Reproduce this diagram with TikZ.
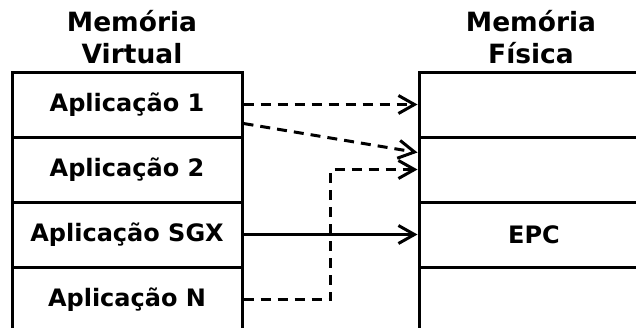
\documentclass[tikz,border=0pt]{standalone}
\usepackage{fontspec}
\setmainfont{DejaVu Sans}
\usetikzlibrary{arrows.meta, calc}

\begin{document}
\begin{tikzpicture}[x=1pt, y=1pt,
	cell/.style={draw, line width=3pt, minimum width=230pt, minimum height=65pt, inner sep=0, font=\fontsize{24}{28}\selectfont\bfseries},
	title/.style={align=center, font=\fontsize{26.5}{32}\selectfont\bfseries},
	link/.style={line width=3pt, -{Straight Barb[length=16pt, width=18pt, line width=3pt]}},
	ptr/.style={link, dash pattern=on 10pt off 7pt}
	]
	\useasboundingbox (0,0) rectangle (636,-327);
	\clip (0,0) rectangle (636,-327);
	
	\node (tv) at (132,-37) [title] {Memória\\Virtual};
	\node (tf) at (531,-37) [title] {Memória\\Física};
	
	\node (v1) at (127,-104.5) [cell] {Aplicação 1};
	\node (v2) at (127,-169.5) [cell] {Aplicação 2};
	\node (v3) at (127,-234.5) [cell] {Aplicação SGX};
	\node (vN) at (127,-299.5) [cell] {Aplicação N};
	
	\foreach \i/\txt in {1/, 2/, 3/EPC, 4/} {
		\node (p\i) at (534,-39.5-65*\i) [cell] {\txt};
	}
	
	\coordinate (mid) at ($(v2.east)!.5!(p2.west)$);
	
	\draw [ptr] (v1.east) -- (p1.west);
	\draw [ptr] ([yshift=-19pt]v1.east) -- ([yshift=17pt]p2.west);
	\draw [ptr] (vN.east) -| (mid) -- (p2.west);
	\draw [link] (v3.east) -- (p3.west);
\end{tikzpicture}
\end{document}
